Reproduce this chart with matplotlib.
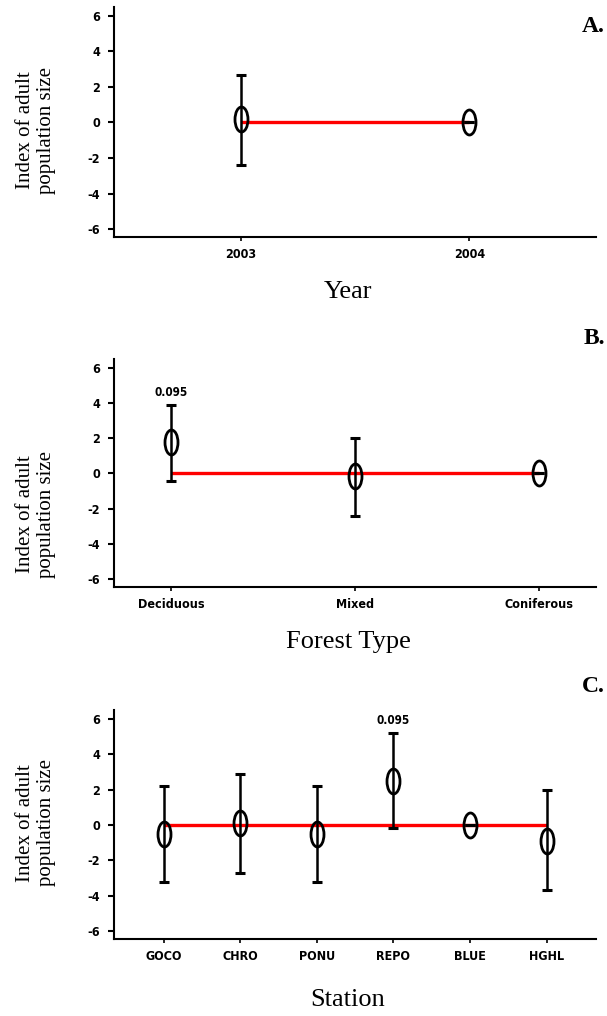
import numpy as np
import matplotlib
matplotlib.use('Agg')
import matplotlib.pyplot as plt
from matplotlib.path import Path
from matplotlib.markers import MarkerStyle

# Panel A: year
years = ['2003', '2004']
year_mean = [0.2, 0.0]
year_lo = [-2.4, 0.0]
year_hi = [2.7, 0.0]

# Panel B: forest type
forest = ['Deciduous', 'Mixed', 'Coniferous']
forest_mean = [1.8, -0.15, 0.0]
forest_lo = [-0.4, -2.4, 0.0]
forest_hi = [3.9, 2.0, 0.0]
forest_p = ['0.095', '', '']

# Panel C: station
stations = ['GOCO', 'CHRO', 'PONU', 'REPO', 'BLUE', 'HGHL']
station_mean = [-0.5, 0.1, -0.5, 2.5, 0.0, -0.9]
station_lo = [-3.2, -2.7, -3.2, -0.2, 0.0, -3.7]
station_hi = [2.2, 2.9, 2.2, 5.2, 0.0, 1.95]
station_p = ['', '', '', '0.095', '', '']

yticks = [-6, -4, -2, 0, 2, 4, 6]

plt.rcParams['axes.unicode_minus'] = False

TICK_FONT = ['Liberation Sans Narrow', 'DejaVu Sans']
SERIF = ['Liberation Serif', 'DejaVu Serif']

# vertically stretched open circle
circ = Path.unit_circle()
ell = Path(circ.vertices * np.array([0.52, 1.0]), circ.codes)
ell_marker = MarkerStyle(ell)

fig = plt.figure(figsize=(6.07, 10.16), dpi=100)


def tick_style(lab, size):
    lab.set_family(TICK_FONT)
    lab.set_fontweight('bold')
    lab.set_stretch('condensed')
    lab.set_fontsize(size)


def panel(rect, cats, mean, lo, hi, xpad, xlabel, xlabel_y, ylab_y, letter, letter_y, pvals=None):
    ax = fig.add_axes(rect)
    x = np.arange(len(cats))
    mean = np.array(mean)
    err = np.vstack([mean - np.array(lo), np.array(hi) - mean])
    ax.plot([x[0], x[-1]], [0, 0], color='red', lw=2.4, zorder=1, solid_capstyle='butt')
    ax.errorbar(x, mean, yerr=err, fmt='none', ecolor='black', elinewidth=1.8,
                capsize=3.8, capthick=2.2, zorder=2)
    ax.plot(x, mean, linestyle='none', marker=ell_marker, markersize=18,
            markerfacecolor='none', markeredgecolor='black', markeredgewidth=2.0, zorder=3)
    if pvals:
        for xi, h, p in zip(x, hi, pvals):
            if p:
                t = ax.text(xi, h + 0.35, p, ha='center', va='bottom')
                tick_style(t, 8.5)
    ax.set_xlim(-xpad, len(cats) - 1 + xpad)
    ax.set_ylim(-6.45, 6.5)
    ax.set_yticks(yticks)
    ax.set_xticks(x)
    ax.set_xticklabels(cats)
    for lab in ax.get_xticklabels() + ax.get_yticklabels():
        tick_style(lab, 9)
    ax.spines['top'].set_visible(False)
    ax.spines['right'].set_visible(False)
    ax.spines['left'].set_linewidth(1.5)
    ax.spines['bottom'].set_linewidth(1.5)
    ax.tick_params(axis='y', direction='out', length=4, width=1.5, pad=6)
    ax.tick_params(axis='x', direction='out', length=3, width=1.2, pad=5)
    fig.text(348 / 607, 1 - xlabel_y / 1016, xlabel, ha='center', va='center',
             fontsize=19, family=SERIF)
    fig.text(36 / 607, 1 - ylab_y / 1016, 'Index of adult\npopulation size',
             ha='center', va='center', rotation=90, fontsize=15, family=SERIF,
             linespacing=1.1)
    fig.text(605 / 607, 1 - letter_y / 1016, letter, ha='right', va='center',
             fontsize=17, fontweight='bold', family=SERIF)
    return ax


panel([0.188, 0.7667, 0.794, 0.2264], years, year_mean, year_lo, year_hi,
      0.555, 'Year', 292, 130, 'A.', 27)
panel([0.188, 0.4222, 0.794, 0.2244], forest, forest_mean, forest_lo, forest_hi,
      0.31, 'Forest Type', 642, 514, 'B.', 338, forest_p)
panel([0.188, 0.0758, 0.794, 0.2254], stations, station_mean, station_lo, station_hi,
      0.645, 'Station', 1000, 823, 'C.', 687, station_p)

fig.savefig('out.png', dpi=100)
